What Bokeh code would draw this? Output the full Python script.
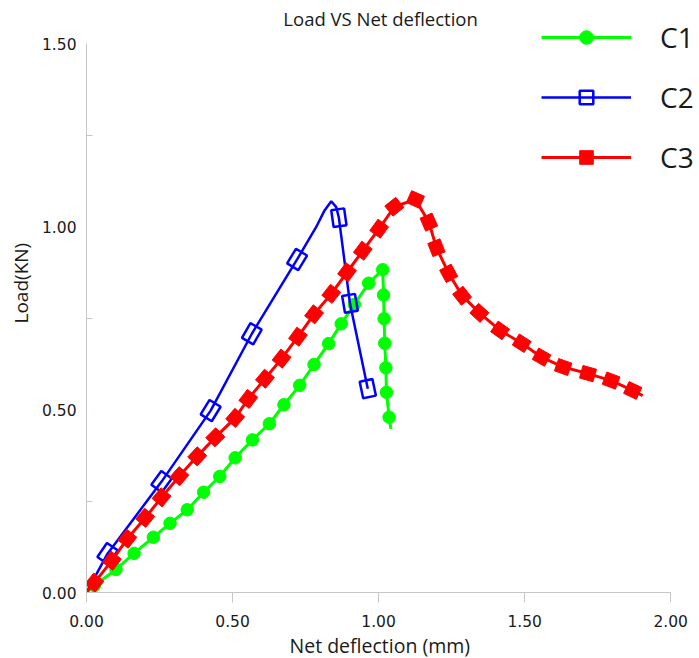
import math
from bokeh.plotting import figure
from bokeh.models import Range1d, FixedTicker, Label, Legend, LegendItem, NumeralTickFormatter, Title
from bokeh.embed import file_html
from bokeh.resources import INLINE

# ---------------- data ----------------
title_text = "Load VS Net deflection"
x_label = "Net deflection (mm)"
y_label = "Load(KN)"
series_names = ["C1", "C2", "C3"]

x_ticks = [0.0, 0.5, 1.0, 1.5, 2.0]
y_ticks = [0.0, 0.5, 1.0, 1.5]
y_minor_ticks = [0.25, 0.75, 1.25]

c1_x = [0.0, 0.027, 0.101, 0.163, 0.229, 0.286, 0.345, 0.401, 0.456, 0.509, 0.568,
        0.626, 0.676, 0.730, 0.779, 0.829, 0.872, 0.917, 0.966, 1.014,
        1.017, 1.019, 1.021, 1.025, 1.027, 1.036, 1.042]
c1_y = [0.0, 0.019, 0.063, 0.107, 0.151, 0.189, 0.226, 0.274, 0.317, 0.368, 0.417,
        0.461, 0.513, 0.566, 0.623, 0.680, 0.734, 0.787, 0.845, 0.882,
        0.813, 0.748, 0.681, 0.614, 0.547, 0.479, 0.447]

c2_x = [0.0, 0.072, 0.257, 0.425, 0.566, 0.721, 0.786, 0.815, 0.838, 0.855, 0.864, 0.902, 0.963]
c2_y = [0.0, 0.106, 0.303, 0.497, 0.707, 0.910, 0.998, 1.044, 1.069, 1.053, 1.024, 0.790, 0.557]
c2_marked = [False, True, True, True, True, True, False, False, False, False, True, True, True]

c3_x = [0.0, 0.027, 0.087, 0.140, 0.201, 0.257, 0.318, 0.379, 0.441, 0.509, 0.554,
        0.611, 0.668, 0.724, 0.779, 0.838, 0.892, 0.946, 1.002, 1.054, 1.126,
        1.172, 1.198, 1.240, 1.286, 1.345, 1.416, 1.490, 1.558, 1.632, 1.717,
        1.796, 1.870, 1.904]
c3_y = [0.0, 0.027, 0.087, 0.147, 0.204, 0.260, 0.318, 0.372, 0.424, 0.477, 0.529,
        0.584, 0.639, 0.699, 0.760, 0.816, 0.875, 0.934, 0.994, 1.054, 1.074,
        1.012, 0.942, 0.872, 0.811, 0.764, 0.716, 0.681, 0.643, 0.616, 0.598,
        0.579, 0.552, 0.538]

# ---------------- layout ----------------
W, H = 699, 658
BL, BR, BT, BB = 82, 0, 0, 66
FW, FH = W - BL - BR, H - BT - BB
X_AXIS_PX, Y_AXIS_PX = 588.0, 549.0          # pixel length of 0..2 and 0..1.5
SX = X_AXIS_PX / (x_ticks[-1] - x_ticks[0])
SY = Y_AXIS_PX / (y_ticks[-1] - y_ticks[0])
X_END = FW / SX
Y_END = FH / SY

GREEN, BLUE, RED = "#00FF00", "#0000FF", "#FF0000"
AXIS_GRAY = "#C6C6C6"
TEXT = "#1a1a1a"
FONT = "Open Sans"

p = figure(width=W, height=H, output_backend="svg", toolbar_location=None,
           x_range=Range1d(0, X_END), y_range=Range1d(0, Y_END),
           min_border_left=BL, min_border_right=BR, min_border_top=BT, min_border_bottom=BB)
p.outline_line_color = None
p.xgrid.visible = False
p.ygrid.visible = False
p.background_fill_color = "white"
p.border_fill_color = "white"

# axes
p.xaxis.ticker = FixedTicker(ticks=x_ticks)
p.yaxis.ticker = FixedTicker(ticks=y_ticks, minor_ticks=y_minor_ticks)
for ax in (p.xaxis[0], p.yaxis[0]):
    ax.formatter = NumeralTickFormatter(format="0.00")
    ax.axis_line_color = AXIS_GRAY
    ax.axis_line_width = 1
    ax.major_tick_line_color = AXIS_GRAY
    ax.minor_tick_line_color = AXIS_GRAY
    ax.major_label_text_font = "DejaVu Sans"
    ax.major_label_text_font_size = "15.5px"
    ax.major_label_text_color = TEXT
p.xaxis.bounds = (x_ticks[0], x_ticks[-1])
p.yaxis.bounds = (y_ticks[0], y_ticks[-1])
p.xaxis.major_tick_out = 10
p.xaxis.major_tick_in = 0
p.xaxis.minor_tick_out = 0
p.xaxis.minor_tick_in = 0
p.xaxis.major_label_standoff = 12
p.yaxis.major_tick_out = 0
p.yaxis.major_tick_in = 0
p.yaxis.minor_tick_in = 6
p.yaxis.minor_tick_out = 0
p.yaxis.major_label_standoff = 10


def screen_angles(xs, ys):
    out = []
    n = len(xs)
    for i in range(n):
        a, b = max(i - 1, 0), min(i + 1, n - 1)
        out.append(math.atan2((ys[b] - ys[a]) * SY, (xs[b] - xs[a]) * SX))
    return out


def pick(vals, flags):
    return [v for v, f in zip(vals, flags) if f]


c1_marked = [False] + [True] * (len(c1_x) - 2) + [False]
c3_marked = [False] + [True] * (len(c3_x) - 2) + [False]

# C1
l1 = p.line(c1_x, c1_y, line_color=GREEN, line_width=3)
m1 = p.scatter(pick(c1_x, c1_marked), pick(c1_y, c1_marked), marker="circle",
               size=12.5, fill_color=GREEN, line_color=GREEN)

# C2
l2 = p.line(c2_x, c2_y, line_color=BLUE, line_width=2.5)
a2 = screen_angles(c2_x, c2_y)
p.rect(pick(c2_x, c2_marked), pick(c2_y, c2_marked), width=17, height=13,
       width_units="screen", height_units="screen", angle=pick(a2, c2_marked),
       fill_color=None, line_color=BLUE, line_width=2.5)
lg2 = p.scatter(pick(c2_x, c2_marked), pick(c2_y, c2_marked), marker="square", size=14,
                fill_color=None, line_color=BLUE, line_width=2.5, visible=False)

# C3
l3 = p.line(c3_x, c3_y, line_color=RED, line_width=3)
a3 = screen_angles(c3_x, c3_y)
p.rect(pick(c3_x, c3_marked), pick(c3_y, c3_marked), width=14, height=13,
       width_units="screen", height_units="screen", angle=pick(a3, c3_marked),
       fill_color=RED, line_color=RED, line_width=1)
lg3 = p.scatter(pick(c3_x, c3_marked), pick(c3_y, c3_marked), marker="square", size=14,
                fill_color=RED, line_color=RED, visible=False)

legend = Legend(items=[LegendItem(label=series_names[0], renderers=[l1, m1]),
                       LegendItem(label=series_names[1], renderers=[l2, lg2]),
                       LegendItem(label=series_names[2], renderers=[l3, lg3])],
                location=(455, 416), orientation="vertical",
                glyph_width=90, glyph_height=34, label_standoff=29,
                label_text_font=FONT, label_text_font_size="28px",
                label_text_color=TEXT, label_text_baseline="middle",
                spacing=22, padding=0, margin=0,
                border_line_alpha=0, background_fill_alpha=0)
p.add_layout(legend)


def px_to_x(page_x):
    return (page_x - BL) / SX


def px_to_y(page_y):
    return (FH - page_y) / SY


p.add_layout(Label(x=px_to_x(378), y=px_to_y(18), text=title_text, text_align="center",
                   text_baseline="middle", text_font=FONT, text_font_size="18.5px",
                   text_color=TEXT))
p.add_layout(Title(text=x_label, align="left", offset=203, standoff=0, text_font=FONT,
                   text_font_size="19.5px", text_font_style="normal", text_color=TEXT),
             "below")
p.add_layout(Title(text=y_label, align="left", offset=269, text_font=FONT,
                   text_font_size="19px", text_font_style="normal", text_color=TEXT),
             "left")

open("out.html", "w").write(file_html(p, INLINE))
